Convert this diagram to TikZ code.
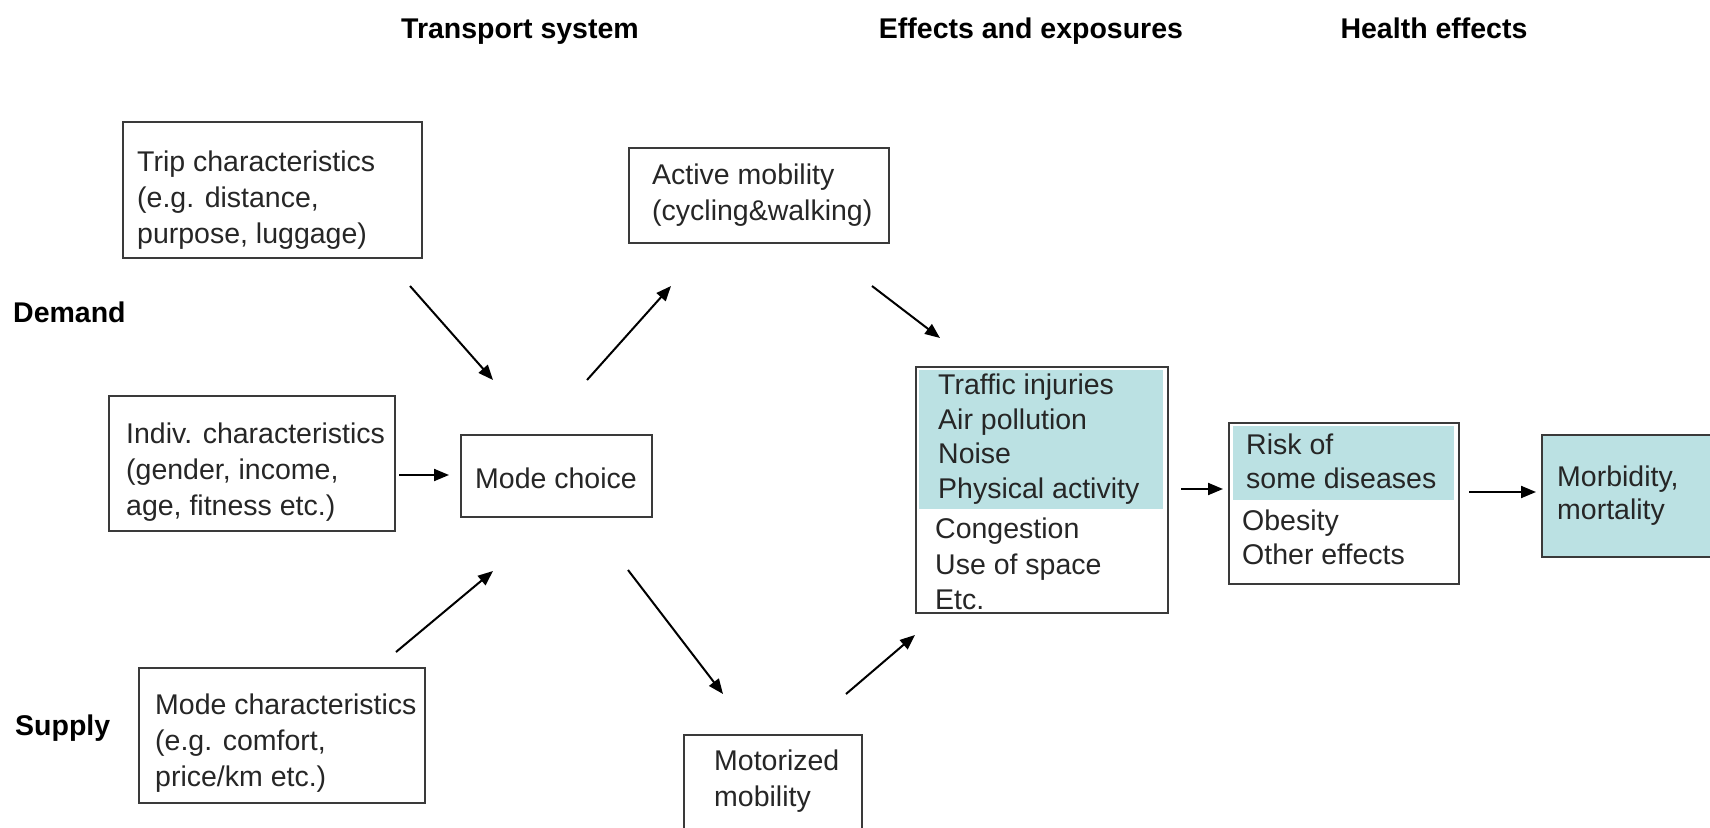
\documentclass[tikz,border=0pt]{standalone}
\usepackage{fontspec}
\setmainfont{Liberation Sans}
\usetikzlibrary{arrows.meta}
\definecolor{teal1}{HTML}{BBE1E3}
\definecolor{edge}{HTML}{3A3A3A}
\tikzset{
  box/.style={draw=edge, line width=2pt, fill=white, inner sep=0pt, anchor=north west},
  shade/.style={fill=teal1, draw=none, inner sep=0pt, anchor=north west},
  txt/.style={inner sep=0pt, align=left, anchor=west, text=black!85, font=\fontsize{28.5}{36}\selectfont},
  head/.style={inner sep=0pt, anchor=base, font=\bfseries\fontsize{28.5}{34}\selectfont},
  side/.style={inner sep=0pt, anchor=west, font=\bfseries\fontsize{28.5}{34}\selectfont},
  arr/.style={line width=2pt, -{Triangle[length=15pt,width=12pt]}}
}
\begin{document}
\begin{tikzpicture}[x=1pt,y=-1pt]
\useasboundingbox (0,0) rectangle (1710,827);
\clip (0,0) rectangle (1710,827);
\fill[white] (0,0) rectangle (1710,827);
% headers
\node[head] (h1) at (520,38) {Transport system};
\node[head] (h2) at (1031,38) {Effects and exposures};
\node[head] (h3) at (1434,38) {Health effects};
\node[side] (dem) at (13,312) {Demand};
\node[side] (sup) at (15,728) {Supply};
% boxes
\node[box, minimum width=299pt, minimum height=136pt] (trip) at (122,121) {};
\node[txt] (triptx) at (137,200) {Trip characteristics\\(e.g. distance,\\purpose, luggage)};
\node[box, minimum width=260pt, minimum height=95pt] (act) at (628,147) {};
\node[txt] (acttx) at (652,195) {Active mobility\\(cycling\&walking)};
\node[box, minimum width=286pt, minimum height=135pt] (ind) at (108,395) {};
\node[txt] (indtx) at (126,472) {Indiv. characteristics\\(gender, income,\\age, fitness etc.)};
\node[box, minimum width=191pt, minimum height=82pt] (mode) at (460,434) {};
\node[txt, anchor=center] (modetx) at (556,478) {Mode choice};
\node[box, minimum width=286pt, minimum height=135pt] (mch) at (138,667) {};
\node[txt] (mchtx) at (155,743) {Mode characteristics\\(e.g. comfort,\\price/km etc.)};
\node[box, minimum width=178pt, minimum height=110pt] (mot) at (683,734) {};
\node[txt] (mottx) at (714,781) {Motorized\\mobility};
% effects
\node[box, minimum width=252pt, minimum height=246pt] (eff) at (915,366) {};
\node[shade, minimum width=244pt, minimum height=139pt] (effsh) at (919,370) {};
\node[txt, font=\fontsize{28.5}{34.6}\selectfont] (efftx1) at (938,439) {Traffic injuries\\Air pollution\\Noise\\Physical activity};
\node[txt, font=\fontsize{28.5}{35.7}\selectfont] (efftx2) at (935,564) {Congestion\\Use of space\\Etc.};
% risk
\node[box, minimum width=230pt, minimum height=161pt] (risk) at (1228,422) {};
\node[shade, minimum width=221pt, minimum height=74pt] (risksh) at (1233,426) {};
\node[txt, font=\fontsize{28.5}{34}\selectfont] (risktx1) at (1246,461) {Risk of\\some diseases};
\node[txt, font=\fontsize{28.5}{34}\selectfont] (risktx2) at (1242,537) {Obesity\\Other effects};
% morbidity
\node[box, fill=teal1, minimum width=190pt, minimum height=122pt] (morb) at (1541,434) {};
\node[txt, font=\fontsize{28.5}{33}\selectfont] (morbtx) at (1557,496) {Morbidity,\\mortality};
% connector end points
\coordinate (a1s) at (410,286); \coordinate (a1e) at (493,380);
\coordinate (a2s) at (399,475); \coordinate (a2e) at (449,475);
\coordinate (a3s) at (396,652); \coordinate (a3e) at (493,571);
\coordinate (a4s) at (587,380); \coordinate (a4e) at (671,286);
\coordinate (a5s) at (628,570); \coordinate (a5e) at (723,694);
\coordinate (a6s) at (872,286); \coordinate (a6e) at (940,338);
\coordinate (a7s) at (846,694); \coordinate (a7e) at (915,635);
\coordinate (a8s) at (1181,489); \coordinate (a8e) at (1223,489);
\coordinate (a9s) at (1469,492); \coordinate (a9e) at (1536,492);
\draw[arr] (a1s) -- (a1e);
\draw[arr] (a2s) -- (a2e);
\draw[arr] (a3s) -- (a3e);
\draw[arr] (a4s) -- (a4e);
\draw[arr] (a5s) -- (a5e);
\draw[arr] (a6s) -- (a6e);
\draw[arr] (a7s) -- (a7e);
\draw[arr] (a8s) -- (a8e);
\draw[arr] (a9s) -- (a9e);
\end{tikzpicture}
\end{document}
